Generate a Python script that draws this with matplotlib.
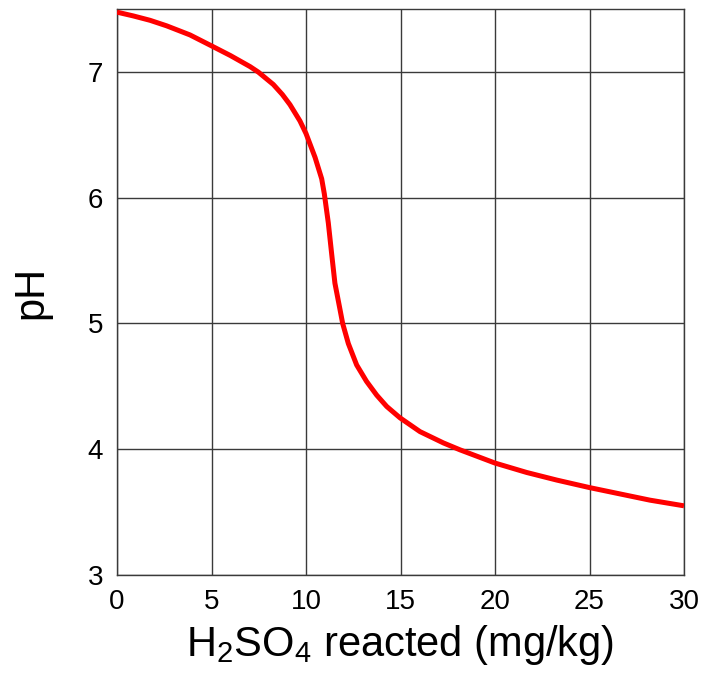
import matplotlib
matplotlib.use("Agg")
import matplotlib.pyplot as plt

plt.rcParams['font.family'] = ['Liberation Sans', 'DejaVu Sans']
plt.rcParams['mathtext.fontset'] = 'custom'
plt.rcParams['mathtext.rm'] = 'Liberation Sans'
plt.rcParams['mathtext.it'] = 'Liberation Sans:italic'

# titration curve: acid reacted vs soil pH
acid_reacted = [0, 0.86, 1.75, 2.63, 3.86, 5.0, 6.0, 7.04, 7.48, 8.27, 8.75, 9.15,
                9.68, 10.0, 10.48, 10.83, 10.97, 11.18, 11.36, 11.53, 11.8, 11.94,
                12.24, 12.68, 13.2, 13.74, 14.27, 14.97, 16.03, 17.27, 18.15, 20.0,
                21.68, 23.26, 25.0, 26.44, 28.2, 30]
ph_values = [7.475, 7.445, 7.41, 7.366, 7.294, 7.207, 7.13, 7.042, 6.998, 6.90, 6.82, 6.74,
             6.61, 6.51, 6.32, 6.15, 6.03, 5.80, 5.55, 5.32, 5.11, 5.0,
             4.84, 4.67, 4.54, 4.43, 4.34, 4.25, 4.14, 4.05, 3.995, 3.89,
             3.815, 3.755, 3.695, 3.65, 3.595, 3.55]
x_ticks = [0, 5, 10, 15, 20, 25, 30]
y_ticks = [3, 4, 5, 6, 7]

fig = plt.figure(figsize=(7.02, 6.83), dpi=100)
ax = fig.add_axes([117 / 702, 108 / 683, 567 / 702, 566 / 683])

ax.plot(acid_reacted, ph_values, color='#ff0000', linewidth=3.6,
        solid_joinstyle='round', solid_capstyle='butt', zorder=3)

ax.set_xlim(0, 30)
ax.set_ylim(3, 7.5)
ax.set_xticks(x_ticks)
ax.set_yticks(y_ticks)
ax.grid(True, color='#3a3a3a', linewidth=1.0)
for s in ax.spines.values():
    s.set_color('#3a3a3a')
    s.set_linewidth(1.0)
ax.tick_params(length=0, labelsize=20)
ax.tick_params(axis='x', pad=10)
ax.tick_params(axis='y', pad=10)

ax.set_xlabel('H$_2$SO$_4$ reacted (mg/kg)', fontsize=30, labelpad=6)
ax.set_ylabel('pH', fontsize=30, labelpad=26)

fig.savefig('out.png', dpi=100)
